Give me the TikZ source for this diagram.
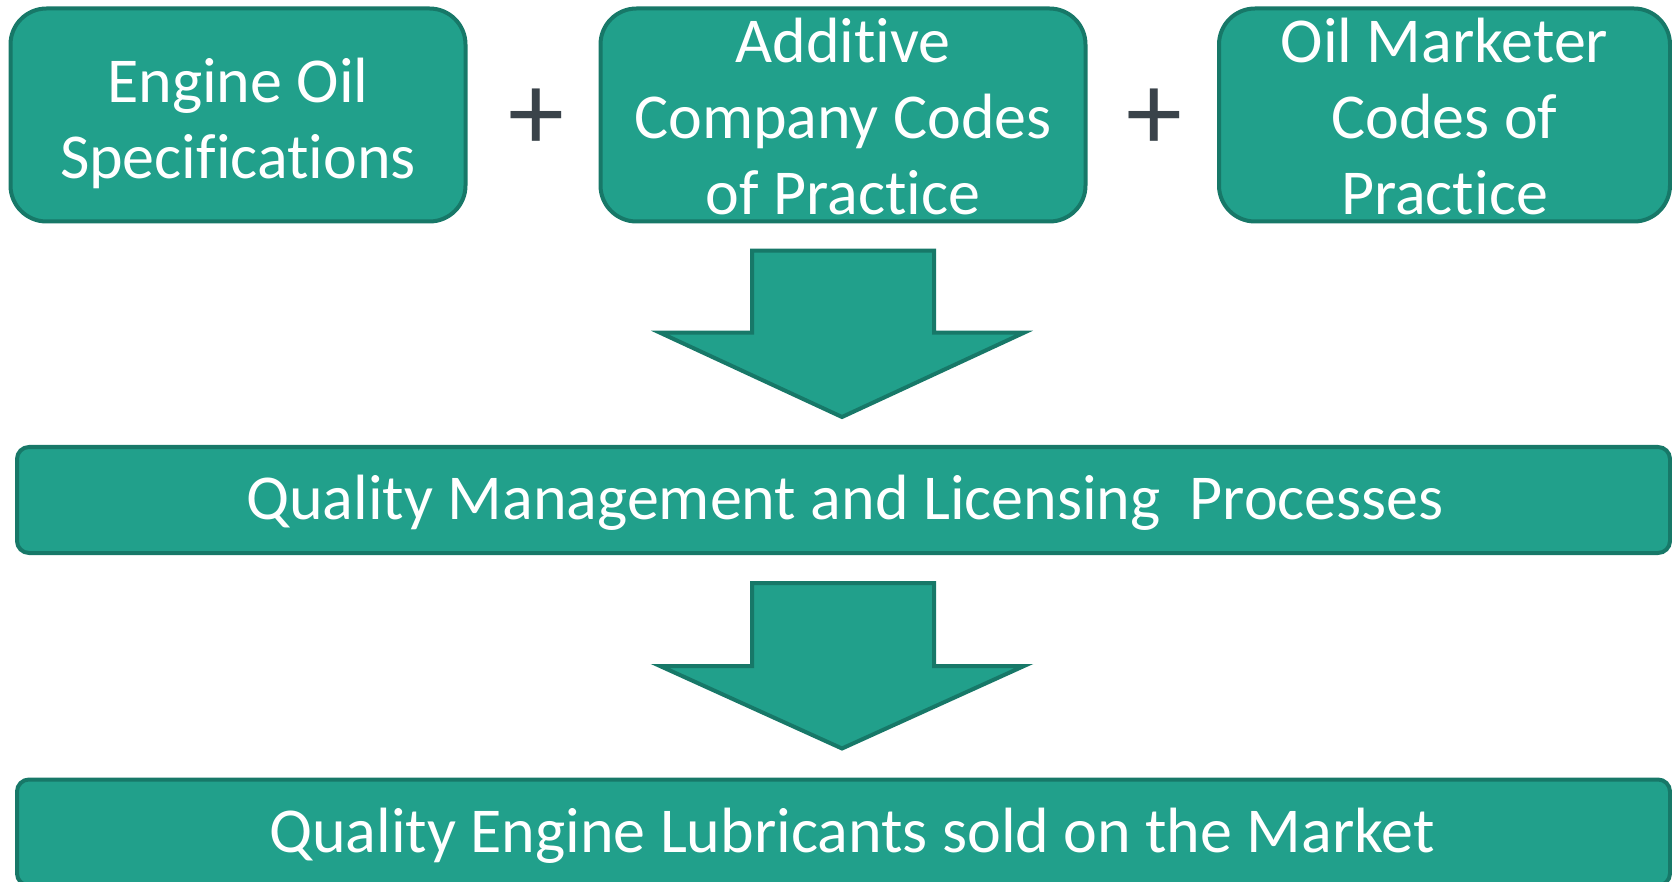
\documentclass[tikz,border=0pt]{standalone}
\usepackage{fontspec}
\setmainfont{Carlito}[RawFeature={-liga}]
\usepackage{xcolor}
\definecolor{tealfill}{HTML}{21A08B}
\definecolor{tealline}{HTML}{177868}
\definecolor{plusgrey}{HTML}{3A434A}
\usetikzlibrary{positioning}

\begin{document}
\begin{tikzpicture}[x=0.5pt,y=-0.5pt,
		blok/.style={draw=tealline,fill=tealfill,line width=2pt,rounded corners=18pt,inner sep=0pt},
		balk/.style={blok,rounded corners=6pt,minimum width=826.5pt,minimum height=53pt},
		tekst/.style={text=white,align=center,font=\fontsize{32}{38}\selectfont},
		plus/.style={text=plusgrey,font=\fontsize{56}{56}\selectfont},
		pijl/.style={draw=tealline,fill=tealfill,line width=2pt,line join=miter}]
		\useasboundingbox (0,0) rectangle (1672,882);
		% bovenste rij
		\node[blok,minimum width=227.5pt,minimum height=106.5pt] (spec) at (238,115) {};
		\node[blok,minimum width=242.5pt,minimum height=106.5pt] (add) at (843,115) {};
		\node[blok,minimum width=225.5pt,minimum height=106.5pt] (mark) at (1444.5,115) {};
		\node[tekst] (spectxt) at (238,123) {Engine Oil\\Specifications};
		\node[tekst] (addtxt) at (843,117) {Additive\\Company Codes\\of Practice};
		\node[tekst] (marktxt) at (1444.5,117) {Oil Marketer\\Codes of\\Practice};
		\node[plus] (plus1) at (536,120) {+};
		\node[plus] (plus2) at (1154,120) {+};
		% balken
		\node[balk] (qual) at (843.5,500) {};
		\node[tekst] (qualtxt) at (845,503) {Quality Management and Licensing\ \ Processes};
		\node[balk] (lub) at (843.5,832.5) {};
		\node[tekst] (lubtxt) at (852,836) {Quality Engine Lubricants sold on the Market};
		% pijlen
		\draw[pijl] (752,250.6) -- (934,250.6) -- (934,332.7) -- (1024,332.7) -- (842,417) -- (660,332.7) -- (752,332.7) -- cycle;
		\draw[pijl] (752,583) -- (934,583) -- (934,666) -- (1024,666) -- (842,748.5) -- (660,666) -- (752,666) -- cycle;
	\end{tikzpicture}
\end{document}
